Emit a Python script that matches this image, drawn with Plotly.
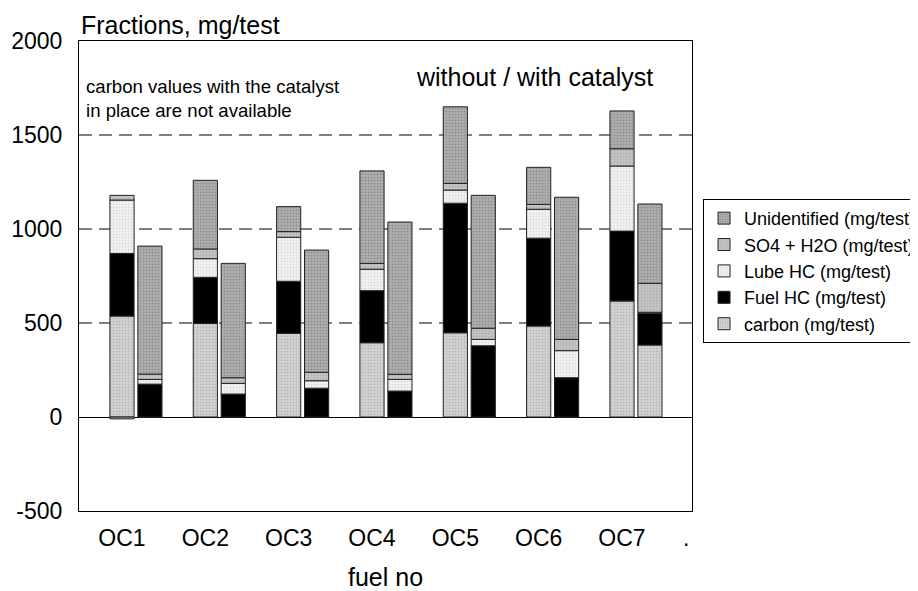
import plotly.graph_objects as go

fuels = ["OC1", "OC2", "OC3", "OC4", "OC5", "OC6", "OC7"]

# without catalyst
carbon_wo = [537, 498, 445, 395, 448, 484, 617]
fuel_wo = [333, 245, 277, 277, 689, 467, 372]
lube_wo = [284, 99, 234, 114, 70, 154, 346]
so4_wo = [25, 52, 30, 31, 36, 26, 92]
unid_wo = [-10, 365, 133, 492, 407, 197, 201]

# with catalyst
carbon_w = [0, 0, 0, 0, 0, 0, 383]
fuel_w = [175, 122, 153, 138, 379, 209, 169]
lube_w = [25, 57, 40, 62, 34, 144, 5]
so4_w = [28, 30, 45, 27, 59, 60, 154]
unid_w = [681, 608, 650, 810, 707, 756, 422]

series = [
    ("carbon (mg/test)", carbon_wo, carbon_w, "#d4d4d4", "#9a9a9a", "."),
    ("Fuel HC (mg/test)", fuel_wo, fuel_w, "#000000", "#000000", ""),
    ("Lube HC (mg/test)", lube_wo, lube_w, "#f4f4f4", "#bdbdbd", "."),
    ("SO4 + H2O (mg/test)", so4_wo, so4_w, "#c4c4c4", "#a0a0a0", "."),
    ("Unidentified (mg/test)", unid_wo, unid_w, "#b0b0b0", "#6e6e6e", "."),
]

offset = 0.335
xw = [i for i in range(len(fuels))]
xc = [i + offset for i in range(len(fuels))]

fig = go.Figure()
for k, (name, wo, w, bg, fg, shape) in enumerate(series):
    fig.add_trace(go.Bar(
        x=xw + xc,
        y=wo + w,
        name=name,
        legendrank=len(series) - k,
        width=0.29,
        marker=dict(
            color=bg,
            line=dict(color="#222222", width=1),
            pattern=dict(shape=shape, bgcolor=bg, fgcolor=fg, size=3, solidity=0.35),
        ),
    ))

tickvals = [float(i) for i in range(len(fuels))] + [6.77]
ticktext = fuels + ["."]

font = "Liberation Sans, Arial, sans-serif"
fig.update_layout(
    width=910, height=583,
    barmode="relative",
    plot_bgcolor="white",
    paper_bgcolor="white",
    margin=dict(l=71, r=226, t=33, b=80, autoexpand=False),
    font=dict(family=font, color="black", size=22),
    showlegend=True,
    legend=dict(
        x=1.018, y=0.664, xanchor="left", yanchor="top",
        traceorder="normal",
        bordercolor="black", borderwidth=1,
        font=dict(size=18, family=font),
        itemwidth=30,
    ),
    xaxis=dict(
        range=[-0.516, 6.84],
        tickvals=tickvals, ticktext=ticktext,
        showgrid=False, zeroline=False,
        showline=True, linecolor="black", linewidth=1, mirror=True,
        ticks="outside", ticklen=6, tickcolor="rgba(0,0,0,0)",
        tickfont=dict(size=23),
        title=dict(text="fuel no", font=dict(size=25), standoff=18),
    ),
    yaxis=dict(
        range=[-500, 2000],
        tickvals=[-500, 0, 500, 1000, 1500, 2000],
        ticktext=["-500", "0", "500", "1000", "1500", "2000"],
        showgrid=False,
        zeroline=True, zerolinecolor="black", zerolinewidth=1,
        showline=True, linecolor="black", linewidth=1, mirror=True,
        ticks="outside", ticklen=11, tickcolor="rgba(0,0,0,0)",
        tickfont=dict(size=23),
    ),
    annotations=[
        dict(text="Fractions, mg/test", xref="paper", yref="paper", x=0.0, y=1.0,
             xanchor="left", yanchor="bottom", yshift=0, xshift=0, showarrow=False,
             font=dict(size=25)),
        dict(text="without / with catalyst", xref="paper", yref="paper", x=0.94, y=0.958,
             xanchor="right", yanchor="top", showarrow=False, font=dict(size=25)),
        dict(text="carbon values with the catalyst<br>in place are not available",
             xref="paper", yref="paper", x=0.008, y=0.93, xanchor="left", yanchor="top",
             align="left", showarrow=False, font=dict(size=18.6)),
    ],
)

for yv in [500, 1000, 1500]:
    fig.add_shape(type="line", xref="paper", yref="y", x0=0, x1=1, y0=yv, y1=yv,
                  line=dict(color="black", width=1, dash="13px,7px"), layer="below")

fig.write_html("out.html")
